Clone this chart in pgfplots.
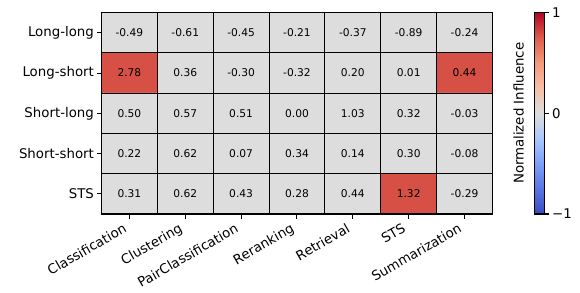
\documentclass[border=0pt]{standalone}
\usepackage{fontspec}
\setmainfont{DejaVu Sans}
\usepackage{pgfplots}
\usepackage{pgfplotstable}
\pgfplotsset{compat=1.18}

\pgfplotstableread{
x y c v
0 0 0 -0.49
1 0 0 -0.61
2 0 0 -0.45
3 0 0 -0.21
4 0 0 -0.37
5 0 0 -0.89
6 0 0 -0.24
0 1 0.79 2.78
1 1 0 0.36
2 1 0 -0.30
3 1 0 -0.32
4 1 0 0.20
5 1 0 0.01
6 1 0.79 0.44
0 2 0 0.50
1 2 0 0.57
2 2 0 0.51
3 2 0 0.00
4 2 0 1.03
5 2 0 0.32
6 2 0 -0.03
0 3 0 0.22
1 3 0 0.62
2 3 0 0.07
3 3 0 0.34
4 3 0 0.14
5 3 0 0.30
6 3 0 -0.08
0 4 0 0.31
1 4 0 0.62
2 4 0 0.43
3 4 0 0.28
4 4 0 0.44
5 4 0.79 1.32
6 4 0 -0.29
}\data

\pgfplotsset{
  colormap={coolwarm}{
    rgb255(0)=(59,76,192)
    rgb255(1)=(88,118,227)
    rgb255(2)=(124,159,249)
    rgb255(3)=(170,199,253)
    rgb255(4)=(221,221,221)
    rgb255(5)=(246,191,166)
    rgb255(6)=(244,154,123)
    rgb255(7)=(220,94,75)
    rgb255(8)=(180,4,38)
  }
}

\begin{document}
\begin{tikzpicture}
\begin{axis}[
  name=main,
  scale only axis,
  width=293.25pt, height=151pt,
  xmin=-0.5, xmax=6.5, ymin=-0.5, ymax=4.5,
  y dir=reverse,
  axis on top,
  axis line style={line width=0.8pt},
  xtick={0,...,6},
  xticklabels={Classification,Clustering,PairClassification,Reranking,Retrieval,STS,Summarization},
  ytick={0,...,4},
  yticklabels={Long-long,Long-short,Short-long,Short-short,STS},
  xtick pos=bottom, ytick pos=left,
  tick align=outside,
  major tick length=3.5pt,
  every tick/.style={black, line width=0.8pt},
  minor xtick={0.5,1.5,...,5.5},
  minor ytick={0.5,1.5,...,3.5},
  minor tick length=0pt,
  xminorgrids, yminorgrids,
  minor grid style={black, line width=0.8pt},
  tick label style={font=\fontsize{10}{12}\selectfont},
  xticklabel style={xshift=-4.5pt, rotate=30, anchor=north east, inner sep=2pt},
  yticklabel style={inner sep=2pt},
  colormap name=coolwarm,
  point meta min=-1, point meta max=1,
  colorbar,
  colorbar style={
    at={(parent axis.north east)}, anchor=north west, xshift=23.1pt,
    width=7.5pt,
    ytick={-1,0,1},
    yticklabels={−1,0,1},
    yticklabel pos=right,
    ytick pos=right,
    tick align=outside,
    major tick length=3.5pt,
    every tick/.style={black, line width=0.8pt},
    axis line style={line width=0.8pt},
    tick label style={font=\fontsize{10}{12}\selectfont},
    yticklabel style={inner sep=2pt},
    ylabel={Normalized Influence},
    ylabel style={at={(axis description cs:-1.6,0.5)}, anchor=center, font=\fontsize{10}{12}\selectfont},
  },
]
\addplot[matrix plot*, mesh/cols=7, point meta=explicit] table[x=x, y=y, meta=c] {\data};
\addplot[draw=none, mark=none, nodes near coords, point meta=explicit symbolic,
  nodes near coords style={anchor=center, font=\fontsize{8}{9.6}\selectfont, text=black}]
  table[x=x, y=y, meta=v] {\data};
\end{axis}
\pgfresetboundingbox
\path ([shift={(-76.1pt,-58.5pt)}]main.south west) rectangle ++(435pt,219pt);
\end{tikzpicture}
\end{document}
